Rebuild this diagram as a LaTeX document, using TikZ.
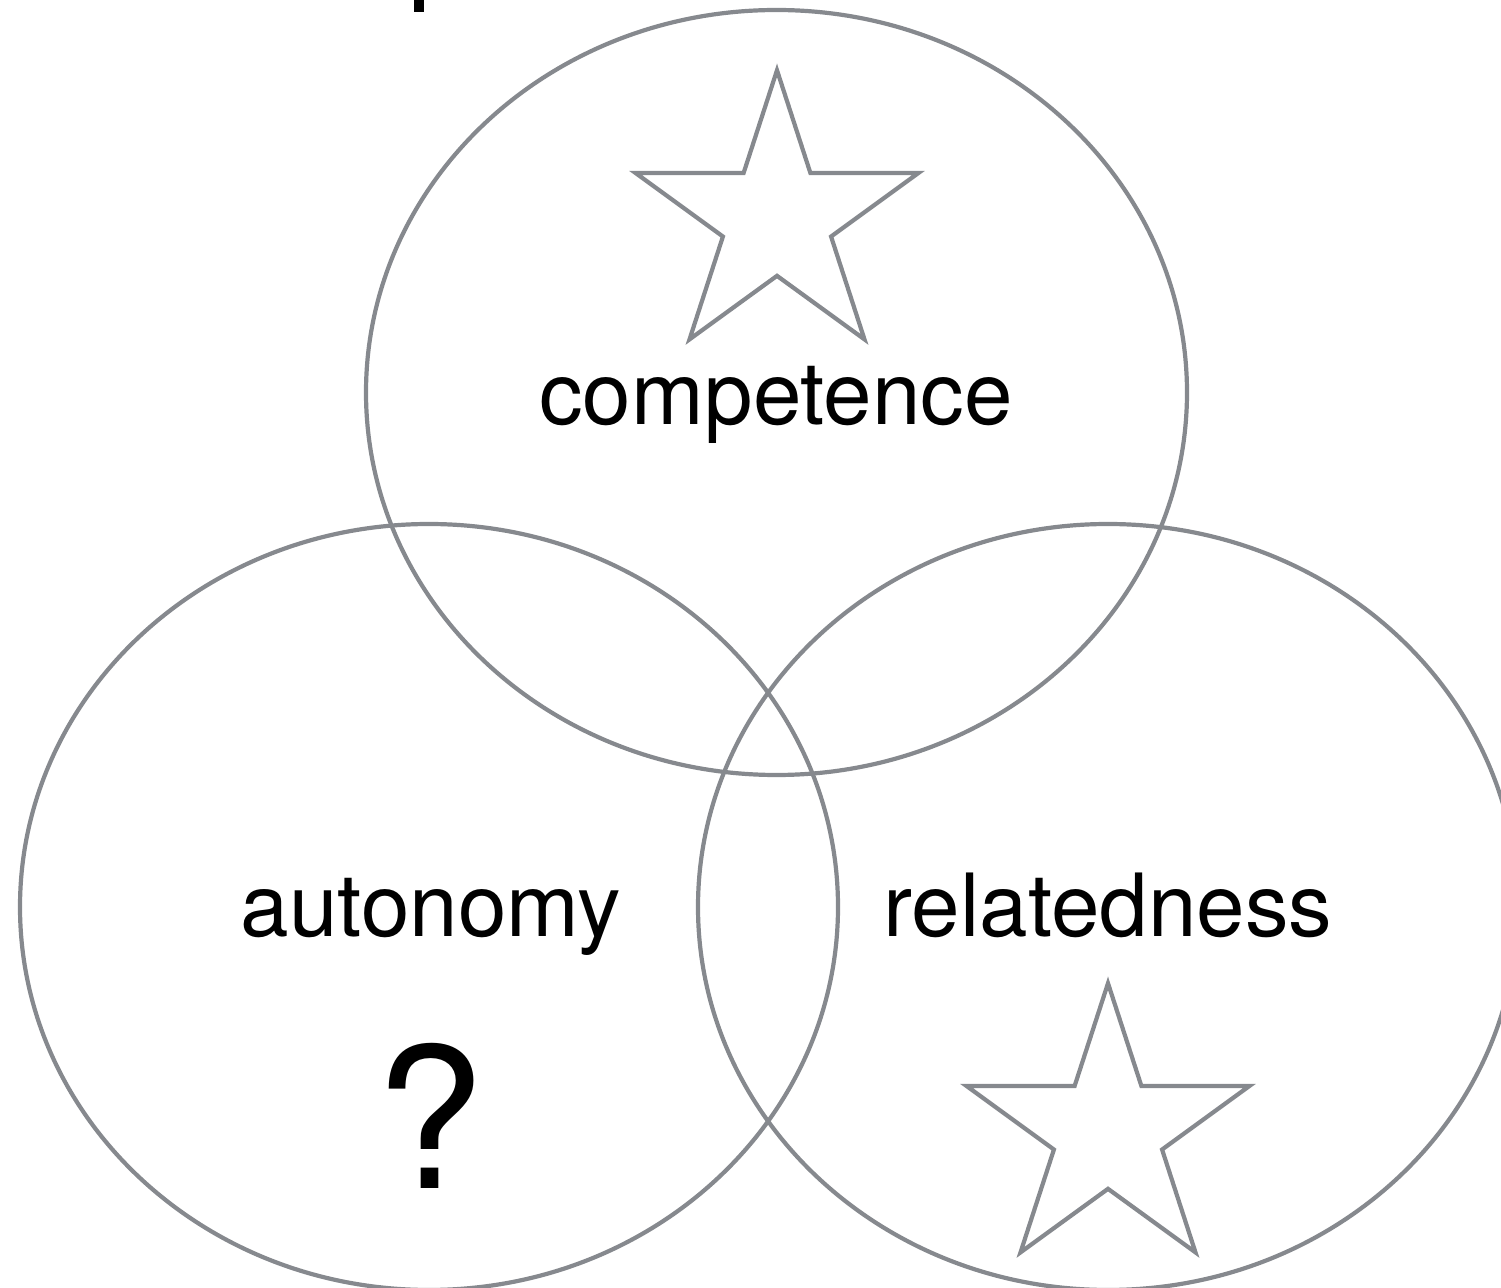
\documentclass[tikz,border=0pt]{standalone}
\usepackage{fontspec}
\setmainfont{TeX Gyre Heros}
\definecolor{ringgray}{RGB}{134,137,142}
\tikzset{
  ring/.style={draw=ringgray,line width=2.1pt},
  starshape/.style={draw=ringgray,line width=2.1pt,line join=miter},
  lbl/.style={anchor=base,inner sep=0pt,font=\fontsize{43.6pt}{50pt}\selectfont},
  pics/fivestar/.style={code={
    \draw[starshape, scale=0.985] (0,-151) -- (33.9,-46.7) -- (143.6,-46.7) -- (54.9,17.8)
      -- (88.8,122.2) -- (0,57.7) -- (-88.8,122.2) -- (-54.9,17.8)
      -- (-143.6,-46.7) -- (-33.9,-46.7) -- cycle;
  }}
}
\begin{document}
\begin{tikzpicture}[x=0.5pt,y=-0.5pt]
\useasboundingbox (0,0) rectangle (1501,1288);
\clip (0,0) rectangle (1501,1288);
% fragment of cut-off title glyph
\fill[black] (414,0) rectangle (424,12);
% circles
\draw[ring] (776.5,392.5) ellipse [x radius=205.25pt, y radius=191.25pt];
\draw[ring] (429,907) ellipse [x radius=204.5pt, y radius=191.5pt];
\draw[ring] (1108,907) ellipse [x radius=205pt, y radius=191.5pt];
% stars
\pic at (777,219) {fivestar};
\pic at (1108,1132) {fivestar};
% labels
\node[lbl] (comp) at (776,425) {competence};
\node[lbl] (auto) at (431,937) {autonomy};
\node[lbl] (rel) at (1108,937) {relatedness};
\node[anchor=base,inner sep=0pt,font=\fontsize{98pt}{110pt}\selectfont] (q) at (430,1188) {?};
\end{tikzpicture}
\end{document}
